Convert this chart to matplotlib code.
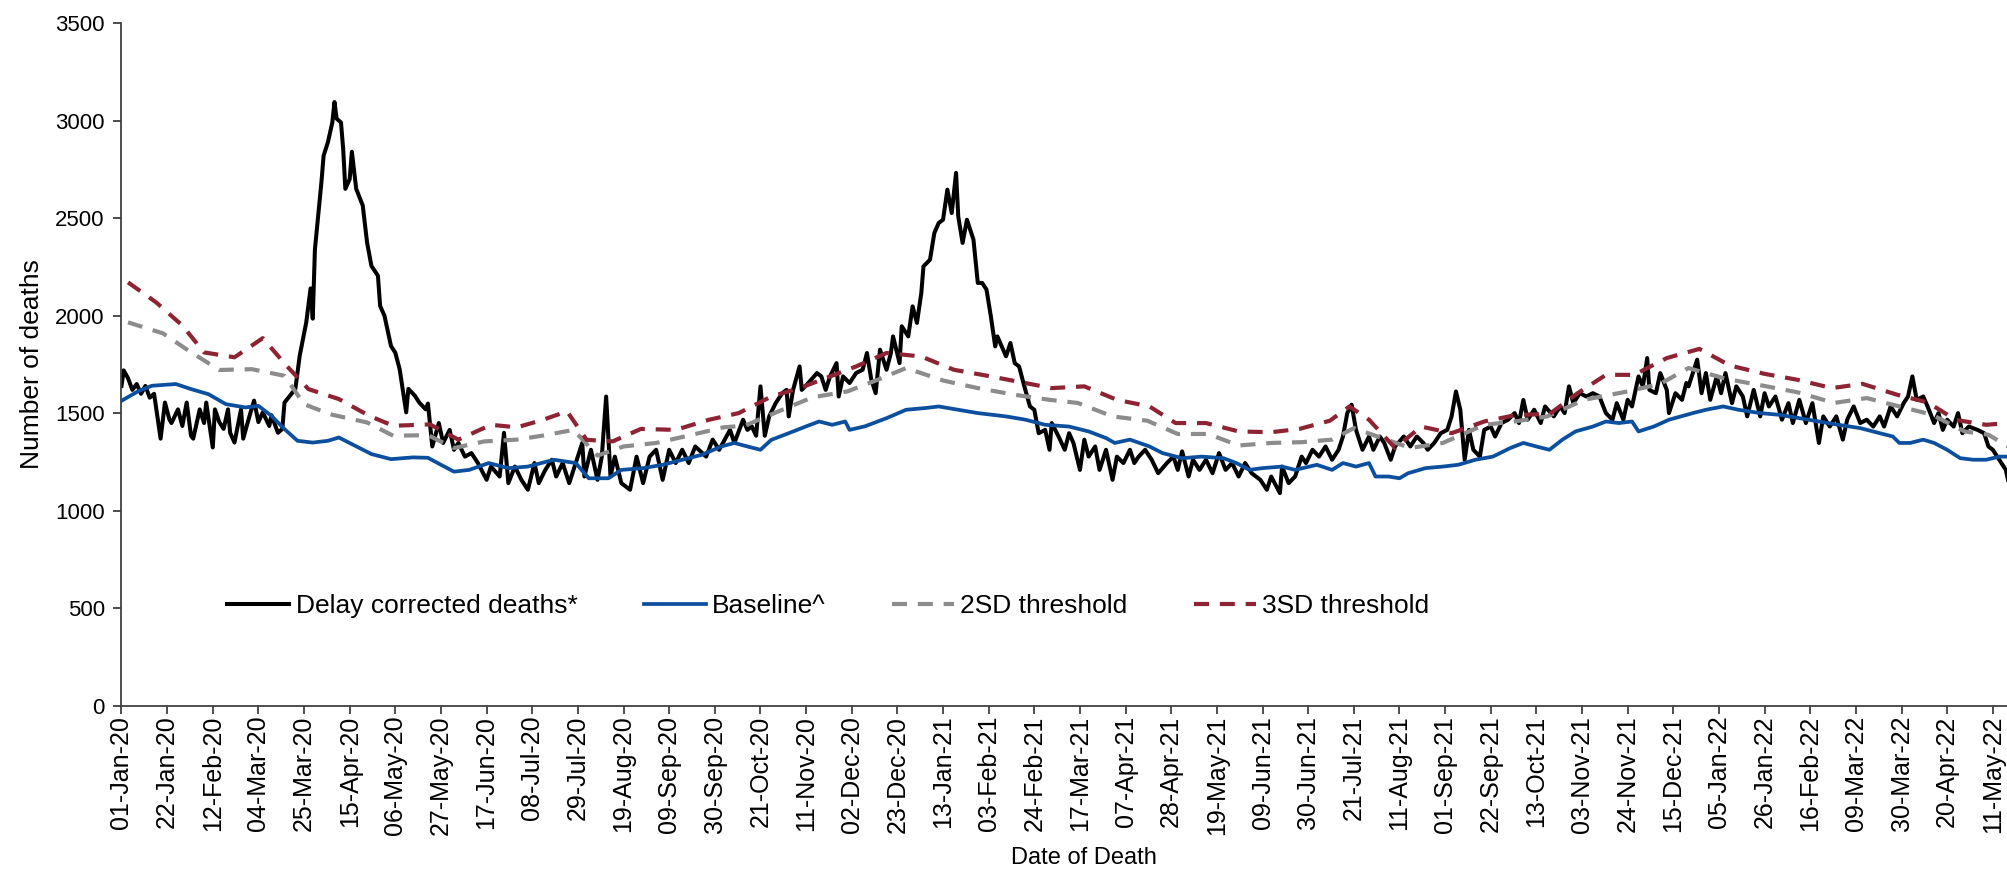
import numpy as np
import pandas as pd
import matplotlib
matplotlib.use("Agg")
import matplotlib.pyplot as plt

#- Data (day offsets counted from 01-Jan-2020)

start = pd.Timestamp("2020-01-01")
last_day = 868

black_day = [0, 1, 3, 5, 7, 9, 11, 13, 15, 18, 20, 22, 23, 26, 28, 30, 32, 33, 36, 38,
             39, 42, 43, 45, 47, 49, 50, 52, 55, 56, 59, 61, 63, 65, 68, 69, 72, 74,
             75, 80, 82, 85, 87, 88, 89, 92, 93, 95, 97, 98, 99, 101, 102, 103, 105, 106,
             108, 111, 113, 115, 118, 119, 121, 124, 126, 128, 131, 132, 135, 137, 140, 141,
             143, 146,
             148, 151, 153, 155, 158, 161, 164, 168, 170, 174, 176, 178, 181, 184, 187, 190,
             192, 195, 198, 200, 203, 206, 209, 212, 213, 216, 219, 221, 223, 225, 227, 230,
             234, 237, 240, 243, 246, 249, 252, 255, 258, 261, 264, 269, 272, 275, 280, 282,
             286, 288,
             290, 292, 294, 296, 298, 301, 304, 306, 307, 309, 312, 313, 316, 320, 322, 324,
             326, 329, 330, 332, 335, 338, 341, 343, 345, 347, 349, 352, 354, 355, 358, 359,
             362, 364, 366, 368, 369, 372, 374, 376, 378, 380, 382, 384, 385, 387, 389, 392,
             394, 396, 398, 400, 402, 403, 405, 407, 409, 411, 413, 415, 418, 420, 422, 425,
             427, 428, 431,
             434, 436, 438, 441, 443, 445, 448, 450, 453, 456, 458, 461, 464, 466, 468, 471,
             474, 477, 481, 484, 486, 488, 491, 493, 496, 499, 502, 505, 508, 511, 514, 517,
             520, 524, 527, 529, 533, 534, 537, 540, 543, 545, 548, 551, 554, 557, 560, 562,
             564, 566, 568, 571, 574,
             576, 579, 581, 584, 586, 590, 593, 596, 599, 601, 604, 607, 610, 612, 614, 616,
             618, 620, 622, 625, 627, 630, 632, 635, 638, 641, 643, 645, 647, 650, 653, 655,
             659, 662, 664, 666, 668, 671, 674, 677, 680, 683, 686, 688, 691, 693, 695, 698,
             700, 702, 703, 706, 708, 711, 712, 715, 718, 720,
             721, 724, 725, 727, 729, 731, 734, 736, 738, 741, 743, 746, 748, 751, 754, 756,
             758, 761, 764, 767, 769, 772, 775, 778, 781, 783, 786, 789, 792, 794, 797, 800,
             803, 806, 809, 811, 814, 817, 820, 822, 824, 826, 829, 831, 834, 836, 838, 840,
             843, 845, 847, 850, 854, 857, 859, 861, 864, 867, 868]
black_n = [1640, 1720, 1680, 1620, 1650, 1600, 1640, 1580, 1600, 1370, 1555, 1470, 1450, 1520, 1435, 1555, 1385, 1370, 1520, 1450,
           1555, 1325, 1520, 1455, 1420, 1520, 1400, 1350, 1520, 1370, 1490, 1565, 1455, 1505, 1435, 1490, 1400, 1420,
           1555, 1625, 1795, 1965, 2140, 1985, 2340, 2685, 2820, 2890, 2990, 3095, 3010, 2990, 2855, 2650, 2700, 2840,
           2650, 2565, 2375, 2255, 2205, 2050, 2000, 1845, 1810, 1725, 1505, 1625, 1590, 1555, 1520, 1550,
           1330, 1450,
           1348, 1415, 1313, 1348, 1278, 1296, 1245, 1159, 1227, 1176, 1400, 1142, 1227, 1159, 1108, 1245,
           1142, 1210, 1262, 1176, 1245, 1142, 1245, 1348, 1176, 1313, 1159, 1278, 1586, 1176, 1278, 1142,
           1108, 1278, 1142, 1278, 1313, 1159, 1313, 1245, 1313, 1245, 1330, 1278, 1365, 1313, 1415, 1348,
           1467, 1415,
           1433, 1385, 1638, 1385, 1484, 1552, 1603, 1620, 1484, 1620, 1740, 1620, 1655, 1706, 1689, 1620,
           1689, 1757, 1586, 1689, 1655, 1706, 1723, 1809, 1672, 1603, 1826, 1723, 1809, 1894, 1757, 1946,
           1894, 2048, 1963, 2116, 2253, 2287, 2424, 2475, 2492, 2646, 2526, 2732, 2509, 2373, 2492, 2390,
           2168, 2168, 2134, 1997, 1843, 1894, 1843, 1792, 1860, 1757, 1740, 1655, 1535, 1518, 1398, 1415,
           1313, 1450, 1385,
           1313, 1398, 1348, 1210, 1365, 1278, 1330, 1210, 1313, 1159, 1278, 1245, 1313, 1245, 1278, 1313,
           1262, 1193, 1245, 1278, 1210, 1305, 1176, 1262, 1210, 1262, 1193, 1296, 1210, 1245, 1176, 1245,
           1193, 1159, 1108, 1176, 1091, 1227, 1142, 1176, 1278, 1245, 1313, 1278, 1330, 1262, 1313, 1381,
           1501, 1544, 1415, 1313, 1381,
           1313, 1381, 1348, 1262, 1330, 1381, 1330, 1381, 1348, 1313, 1348, 1398, 1415, 1484, 1612, 1518,
           1262, 1415, 1313, 1278, 1415, 1432, 1381, 1450, 1467, 1501, 1450, 1569, 1467, 1518, 1450, 1535,
           1484, 1535, 1501, 1638, 1552, 1603, 1586, 1603, 1586, 1501, 1467, 1552, 1467, 1569, 1535, 1689,
           1638, 1783, 1620, 1603, 1706, 1620, 1501, 1603, 1569, 1655,
           1638, 1740, 1775, 1603, 1706, 1569, 1689, 1603, 1706, 1552, 1638, 1586, 1484, 1620, 1484, 1603,
           1535, 1586, 1467, 1552, 1450, 1569, 1450, 1552, 1348, 1484, 1432, 1484, 1365, 1467, 1535, 1450,
           1467, 1432, 1484, 1432, 1535, 1484, 1552, 1586, 1689, 1569, 1586, 1535, 1450, 1501, 1415, 1467,
           1432, 1501, 1398, 1432, 1415, 1398, 1330, 1313, 1262, 1210, 1159]

base_day = [0, 8, 14, 25, 32, 40, 48, 57, 63, 69, 75, 81, 88, 95, 100, 106, 115, 124, 134, 141,
            147, 153, 160, 169, 178, 187, 199, 209, 215, 224, 230, 240, 249, 258, 267, 276, 282, 288,
            294, 299, 307, 315, 321, 327, 333, 335, 342, 352, 361, 370, 376, 385, 394, 407, 416, 425,
            436, 445, 453, 457, 464, 473, 479, 488, 497, 507, 513, 519, 525, 534, 540, 550, 557, 562,
            568, 574, 577, 583, 588, 592, 600, 608, 615, 623, 631, 639, 645, 651, 657, 663, 669, 677,
            683, 689, 695, 698, 705, 712, 723, 729, 737, 744, 754, 763, 772, 781, 790, 800, 809, 815,
            818, 823, 829, 834, 840, 846, 852, 858, 864, 868]
base_n = [1564, 1615, 1641, 1650, 1624, 1598, 1547, 1530, 1538, 1487, 1419, 1359, 1350, 1359, 1376, 1342, 1291, 1265, 1274, 1272,
          1236, 1201, 1210, 1245, 1219, 1227, 1262, 1245, 1167, 1167, 1210, 1219, 1236, 1262, 1287, 1330, 1348, 1330,
          1313, 1364, 1398, 1433, 1458, 1441, 1458, 1415, 1433, 1475, 1518, 1527, 1535, 1518, 1501, 1484, 1467, 1441,
          1432, 1407, 1373, 1348, 1365, 1330, 1296, 1270, 1278, 1270, 1245, 1210, 1219, 1227, 1210, 1236, 1210, 1245,
          1227, 1245, 1176, 1176, 1167, 1193, 1219, 1227, 1236, 1262, 1278, 1322, 1348, 1330, 1313, 1365, 1407, 1432,
          1458, 1450, 1458, 1407, 1432, 1467, 1501, 1518, 1535, 1518, 1501, 1492, 1475, 1458, 1441, 1424, 1398, 1381,
          1348, 1348, 1365, 1348, 1313, 1270, 1262, 1262, 1278, 1278]

sd2_day = [3, 19, 31, 45, 60, 75, 84, 96, 113, 125, 141,
           153, 167, 182, 194, 208, 219, 231, 246, 261, 277,
           287, 304, 318, 334, 348, 361, 378, 394, 411, 427,
           440, 456, 472, 486, 500, 514, 529, 543, 557, 567,
           593, 608, 627, 641, 656, 673, 693, 708,
           721, 738, 755, 771, 788, 803, 818, 833, 848, 859, 868]
sd2_n = [1966, 1910, 1820, 1722, 1726, 1692, 1547, 1495, 1453, 1385, 1388,
         1322, 1356, 1365, 1386, 1415, 1283, 1330, 1348, 1386, 1428,
         1437, 1518, 1582, 1612, 1672, 1732, 1668, 1629, 1595, 1569,
         1553, 1484, 1462, 1394, 1394, 1335, 1348, 1352, 1365, 1424,
         1322, 1348, 1441, 1458, 1484, 1569, 1612, 1651,
         1732, 1677, 1642, 1608, 1553, 1578, 1535, 1493, 1407, 1390, 1330]

sd3_day = [3, 16, 28, 38, 52, 65, 76, 86, 100, 114, 125, 142,
           155, 170, 182, 194, 205, 214, 226, 239, 255, 270, 284,
           299, 312, 324, 338, 352, 368, 383, 398, 414, 428,
           443, 458, 473, 485, 499, 514, 529, 542, 556, 565, 574,
           586, 598, 612, 627, 642, 657, 670, 683, 696, 711,
           726, 740, 756, 771, 787, 801, 817, 831, 844, 858, 868]
sd3_n = [2171, 2068, 1950, 1812, 1787, 1885, 1743, 1624, 1573, 1487, 1436, 1443,
         1365, 1441, 1428, 1467, 1510, 1364, 1356, 1420, 1415, 1466, 1501,
         1586, 1629, 1680, 1740, 1809, 1791, 1723, 1693, 1659, 1629,
         1638, 1569, 1535, 1450, 1450, 1407, 1403, 1420, 1462, 1535, 1467,
         1322, 1432, 1398, 1458, 1492, 1496, 1603, 1697, 1697, 1783,
         1830, 1745, 1702, 1672, 1629, 1651, 1595, 1556, 1466, 1441, 1450]


def to_dates(days):
    return start + pd.to_timedelta(days, unit="D")


#- Figure

plt.rcParams["font.family"] = ["Liberation Sans", "DejaVu Sans"]

fig = plt.figure(figsize=(20.08, 8.74), dpi=100)
ax = fig.add_axes([0.0605, 0.1922, 0.9395, 0.7815])

ax.plot(to_dates(black_day), black_n, color="#000000", lw=2.9,
        label="Delay corrected deaths*")
ax.plot(to_dates(base_day), base_n, color="#0B4F9E", lw=2.7, label="Baseline^")
ax.plot(to_dates(sd2_day), sd2_n, color="#8C8C8C", lw=3.0, dashes=(3.6, 2.6),
        label="2SD threshold")
ax.plot(to_dates(sd3_day), sd3_n, color="#8E2433", lw=3.0, dashes=(3.6, 2.6),
        label="3SD threshold")

ax.set_ylim(0, 3500)
ax.set_yticks(np.arange(0, 3501, 500))
ax.set_xlim(start, start + pd.Timedelta(days=last_day))
xt = pd.date_range(start, start + pd.Timedelta(days=last_day), freq="21D")
ax.set_xticks(xt)
ax.set_xticklabels([d.strftime("%d-%b-%y") for d in xt], rotation=90)

ax.spines["top"].set_visible(False)
ax.spines["right"].set_visible(False)
for s in ("left", "bottom"):
    ax.spines[s].set_linewidth(1.3)
    ax.spines[s].set_color("#404040")
ax.tick_params(axis="both", direction="out", length=6, width=1.3, color="#404040")
ax.tick_params(axis="y", labelsize=16, pad=6)
ax.tick_params(axis="x", labelsize=18, pad=1)

ax.set_ylabel("Number of deaths", fontsize=19, labelpad=8)
ax.set_xlabel("Date of Death", fontsize=17)
ax.xaxis.set_label_coords(0.51, -0.207)

ax.legend(loc="center left", bbox_to_anchor=(0.056, 0.146), ncol=4, frameon=False,
          fontsize=19, handlelength=2.35, handletextpad=0.25, columnspacing=2.5,
          borderpad=0, borderaxespad=0)

plt.savefig("out.png", dpi=100)
